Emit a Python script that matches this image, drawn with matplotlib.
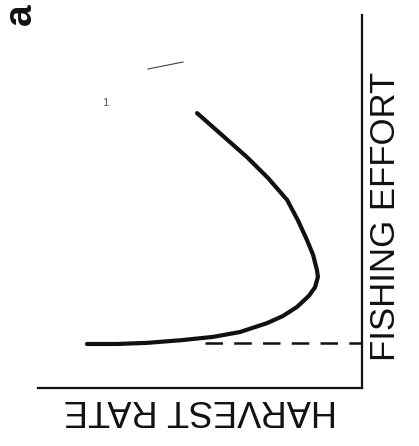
#!/usr/bin/python3
# coding: utf_8

""" Yield / effort curve (scanned figure, rotated) """

import matplotlib
matplotlib.use("Agg")
import matplotlib.pyplot as plt

# harvest rate (horizontal) and fishing effort (vertical), fraction of axis
harvest = [0.151, 0.244, 0.336, 0.440, 0.540, 0.623, 0.707, 0.756, 0.799,
           0.836, 0.855, 0.864, 0.861, 0.849, 0.830, 0.802, 0.769, 0.710,
           0.645, 0.568, 0.491]
effort = [0.118, 0.118, 0.121, 0.128, 0.137, 0.150, 0.174, 0.193, 0.217,
          0.247, 0.270, 0.298, 0.316, 0.357, 0.397, 0.450, 0.504, 0.563,
          0.619, 0.678, 0.737]

# level of the dashed reference line and where it starts
dash_level = 0.121
dash_start = 0.515

x_label = "HARVEST RATE"
y_label = "FISHING EFFORT"
panel = "a"

W, H = 419, 446
fig = plt.figure(figsize=(W / 100, H / 100), dpi=100)
fig.patch.set_facecolor("white")

left, right, top, bottom = 38, 362, 15, 388
ax = fig.add_axes([left / W, 1 - bottom / H, (right - left) / W, (bottom - top) / H])
ax.set_xlim(0, 1)
ax.set_ylim(0, 1)
for side in ("top", "left"):
    ax.spines[side].set_visible(False)
for side in ("right", "bottom"):
    ax.spines[side].set_linewidth(1.6)
    ax.spines[side].set_color("#111111")
ax.set_xticks([])
ax.set_yticks([])

ax.plot(harvest, effort, color="#111111", lw=3.0, solid_capstyle="round",
        solid_joinstyle="round")
ax.plot([dash_start, 1.0], [dash_level, dash_level], color="#111111",
        lw=1.8, dashes=(7, 4.5))

font = "Liberation Sans"
fig.text(385 / W, 1 - 216 / H, y_label, rotation=90, fontsize=25,
         family=font, ha="center", va="center", color="#111111")
fig.text(200 / W, 1 - 409 / H, x_label, rotation=180, fontsize=26,
         family=font, ha="center", va="center", color="#111111")
fig.text(21 / W, 1 - 14 / H, panel, rotation=90, fontsize=28, weight="bold",
         family=font, ha="center", va="center", color="#111111")

# stray marks on the scan
fig.text(105 / W, 1 - 103 / H, "1", fontsize=8, family=font,
         ha="center", va="center", color="#555555")
fig.add_artist(plt.Line2D([148 / W, 183 / W], [1 - 69 / H, 1 - 62 / H],
                          color="#444444", lw=0.8))

fig.savefig("out.png", dpi=100, facecolor="white")
